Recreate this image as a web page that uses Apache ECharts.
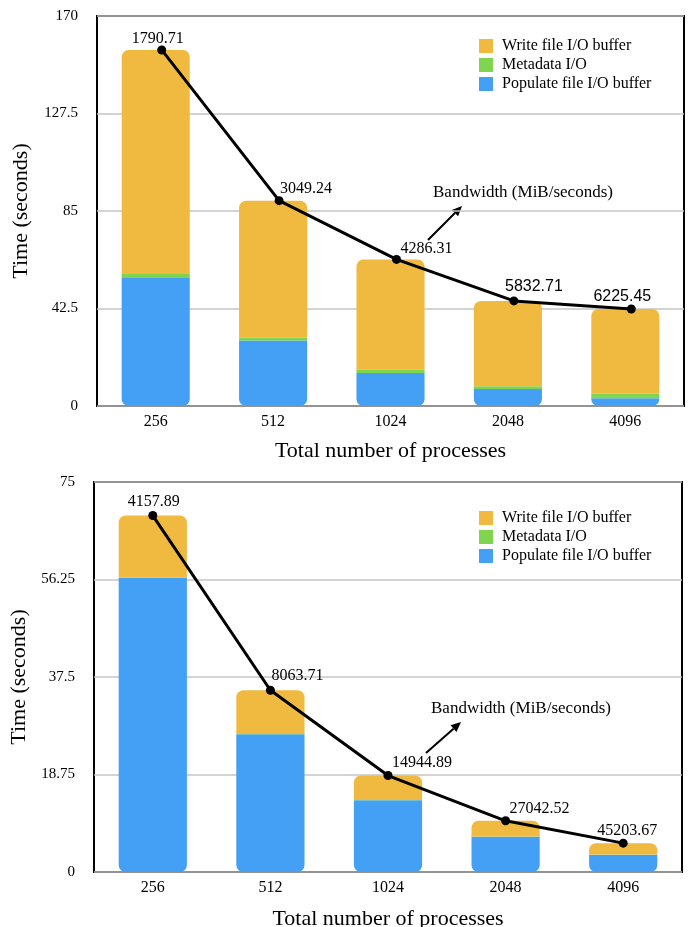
<!DOCTYPE html>
<html>
<head>
<meta charset="utf-8">
<script src="https://cdn.jsdelivr.net/npm/echarts@6/dist/echarts.min.js"></script>
<style>html,body{margin:0;padding:0;background:#fff;}#c{width:692px;height:927px;}</style>
</head>
<body>
<div id="c"></div>
<script>
const categories = ['256', '512', '1024', '2048', '4096'];
const seriesNames = ['Write file I/O buffer', 'Metadata I/O', 'Populate file I/O buffer'];

const topPopulate = [56.1, 28.5, 14.4, 7.4, 3.4];
const topMetadata = [1.4, 1.2, 1.4, 1.2, 1.9];
const topWrite = [97.7, 59.8, 48.1, 37.2, 37.0];
const topBandwidth = ['1790.71', '3049.24', '4286.31', '5832.71', '6225.45'];
const topTicks = [0, 42.5, 85, 127.5, 170];

const botPopulate = [56.6, 26.5, 13.8, 6.8, 3.3];
const botMetadata = [0.05, 0.05, 0.05, 0.05, 0.05];
const botWrite = [11.9, 8.4, 4.7, 3.0, 2.2];
const botBandwidth = ['4157.89', '8063.71', '14944.89', '27042.52', '45203.67'];
const botTicks = [0, 18.75, 37.5, 56.25, 75];

// label styling (offsets / fonts) kept separate from data
const topLabelOffset = [[-4, 1], [27, 1], [30, 2], [20, -2], [-9, 0]];
const topLabelFont = ['Liberation Serif', 'Liberation Serif', 'Liberation Serif', 'Liberation Sans', 'Liberation Sans'];
const botLabelOffset = [[1, -1], [27, -2], [34, 0], [34, 1], [4, 0]];

const COLORS = { write: '#F0BA40', meta: '#7FD450', pop: '#43A0F5' };
const SERIF = 'Liberation Serif';

function sum3(a, b, c) { return a.map((v, i) => +(v + b[i] + c[i]).toFixed(3)); }

const chart = echarts.init(document.getElementById('c'), null, { renderer: 'canvas' });

function xCat(gridIndex, show, gap) {
  return {
    type: 'category', gridIndex, data: categories,
    axisLine: { show: false }, axisTick: { show: false },
    axisLabel: { show: show, color: '#000', fontFamily: SERIF, fontSize: 16, margin: 8 },
    name: show ? 'Total number of processes' : '', nameLocation: 'middle', nameGap: gap,
    nameTextStyle: { color: '#000', fontFamily: SERIF, fontSize: 22 }
  };
}
function yVal(gridIndex, ticks, show, gap) {
  return {
    type: 'value', gridIndex, min: ticks[0], max: ticks[ticks.length - 1], interval: ticks[1] - ticks[0],
    axisLine: { show: false }, axisTick: { show: false },
    axisLabel: { show: show, color: '#000', fontFamily: SERIF, fontSize: 15, margin: 19 },
    splitLine: { show: show, lineStyle: { color: '#c4c4c4', width: 1.5 } },
    name: show ? 'Time (seconds)' : '', nameLocation: 'middle', nameGap: gap, nameRotate: 90,
    nameTextStyle: { color: '#000', fontFamily: SERIF, fontSize: 22 }
  };
}

function barSeries(xi, yi, stack, pop, meta, write) {
  return [
    { name: seriesNames[2], type: 'bar', xAxisIndex: xi, yAxisIndex: yi, stack, data: pop, barWidth: '58%',
      itemStyle: { color: COLORS.pop, borderRadius: [0, 0, 7, 7] } },
    { name: seriesNames[1], type: 'bar', xAxisIndex: xi, yAxisIndex: yi, stack, data: meta, barWidth: '58%',
      itemStyle: { color: COLORS.meta } },
    { name: seriesNames[0], type: 'bar', xAxisIndex: xi, yAxisIndex: yi, stack, data: write, barWidth: '58%',
      itemStyle: { color: COLORS.write, borderRadius: [7, 7, 0, 0] } }
  ];
}

function lineSeries(xi, yi, totals, bw, offsets, fonts) {
  return {
    name: 'Bandwidth', type: 'line', xAxisIndex: xi, yAxisIndex: yi, z: 10,
    symbol: 'circle', symbolSize: 9, lineStyle: { color: '#000', width: 3 }, itemStyle: { color: '#000' },
    data: totals.map((v, i) => ({
      value: v,
      label: { show: true, position: 'top', distance: 0, offset: offsets[i], formatter: bw[i],
               color: '#000', fontSize: 16, fontFamily: fonts ? fonts[i] : SERIF }
    }))
  };
}

function arrowGraphic(x1, y1, x2, y2) {
  const ang = Math.atan2(y2 - y1, x2 - x1);
  const L = 10, W = 4.5;
  const bx = x2 - L * Math.cos(ang), by = y2 - L * Math.sin(ang);
  const px = -Math.sin(ang) * W, py = Math.cos(ang) * W;
  return [
    { type: 'line', shape: { x1, y1, x2: bx, y2: by }, style: { stroke: '#000', lineWidth: 2 } },
    { type: 'polygon', shape: { points: [[x2, y2], [bx + px, by + py], [bx - px, by - py]] }, style: { fill: '#000' } }
  ];
}

function legend(top) {
  return {
    data: seriesNames, orient: 'vertical', left: 474, top, icon: 'rect',
    itemWidth: 14, itemHeight: 14, itemGap: 3, selectedMode: false,
    textStyle: { color: '#000', fontFamily: SERIF, fontSize: 16, padding: [0, 0, 0, 4] }
  };
}

const gridBase = { containLabel: false, outerBoundsMode: 'none' };

const option = {
  backgroundColor: '#fff',
  animation: false,
  grid: [
    Object.assign({ left: 97, top: 16, width: 587, height: 390, show: true, borderColor: '#000', borderWidth: 2, backgroundColor: 'transparent' }, gridBase),
    Object.assign({ left: 103, top: 16, width: 587, height: 390 }, gridBase),
    Object.assign({ left: 94, top: 482, width: 588, height: 390, show: true, borderColor: '#000', borderWidth: 2, backgroundColor: 'transparent' }, gridBase)
  ],
  xAxis: [xCat(0, true, 34), xCat(1, false, 0), xCat(2, true, 36)],
  yAxis: [yVal(0, topTicks, true, 65), yVal(1, topTicks, false, 0), yVal(2, botTicks, true, 63)],
  legend: [legend(33), legend(505)],
  series: [
    ...barSeries(0, 0, 'top', topPopulate, topMetadata, topWrite),
    lineSeries(1, 1, sum3(topPopulate, topMetadata, topWrite), topBandwidth, topLabelOffset, topLabelFont),
    ...barSeries(2, 2, 'bot', botPopulate, botMetadata, botWrite),
    lineSeries(2, 2, sum3(botPopulate, botMetadata, botWrite), botBandwidth, botLabelOffset, null)
  ],
  graphic: [
    { type: 'text', left: 433, top: 184, style: { text: 'Bandwidth (MiB/seconds)', fill: '#000', font: '17px "Liberation Serif"' } },
    ...arrowGraphic(428, 240, 462, 206),
    { type: 'text', left: 431, top: 700, style: { text: 'Bandwidth (MiB/seconds)', fill: '#000', font: '17px "Liberation Serif"' } },
    ...arrowGraphic(426, 753, 461, 722)
  ]
};
chart.setOption(option);
</script>
</body>
</html>
